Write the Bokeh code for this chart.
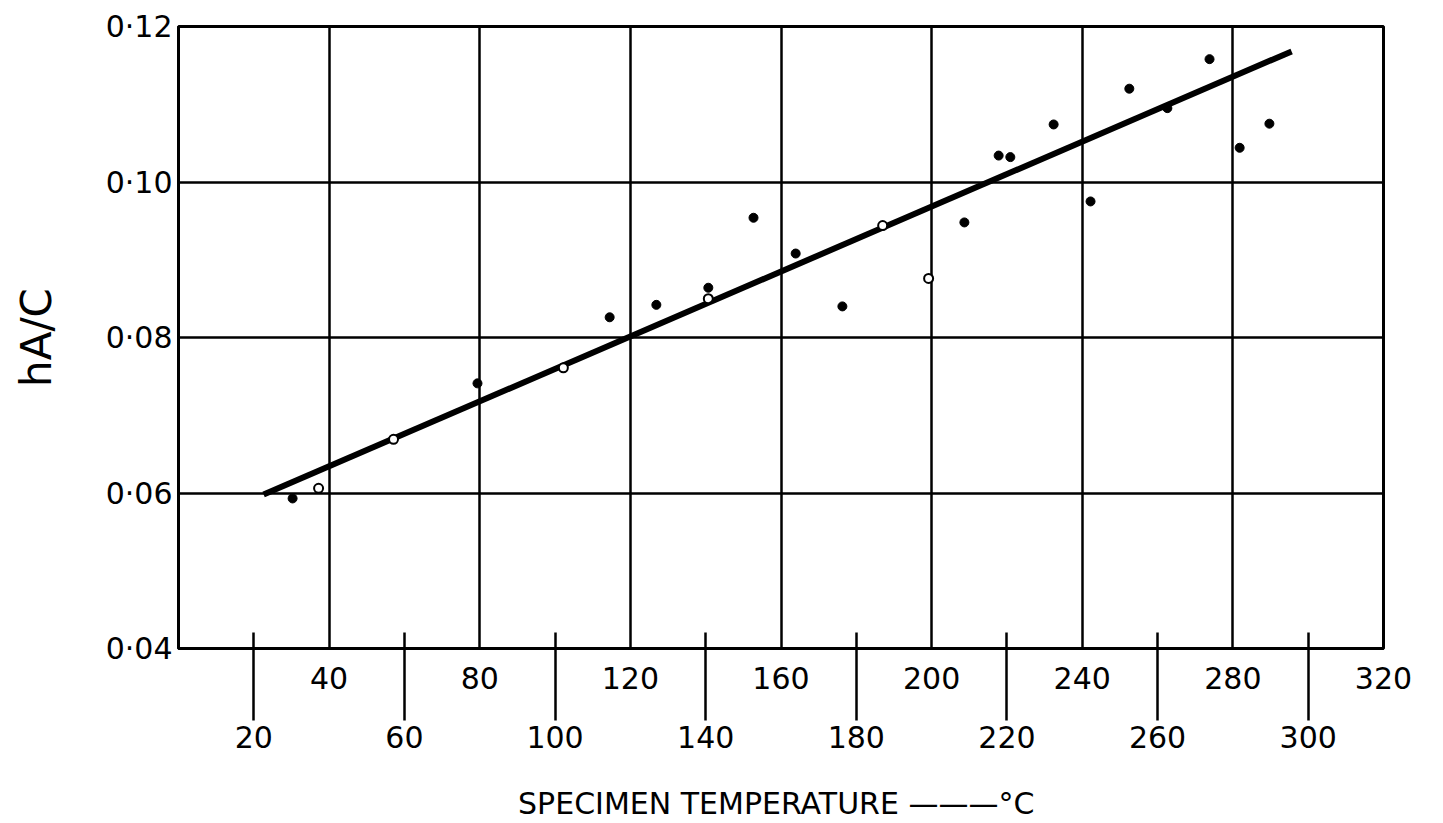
from bokeh.plotting import figure
from bokeh.models import LinearAxis, FixedTicker, Range1d
from bokeh.embed import file_html
from bokeh.resources import INLINE

# ---- data ----
temp_filled = [30.3, 79.4, 114.5, 126.9, 140.7, 152.7, 163.9, 176.3, 208.7, 217.8,
               220.9, 232.4, 242.2, 252.5, 262.6, 273.8, 281.8, 289.7]
ha_filled = [0.0593, 0.0741, 0.0826, 0.0842, 0.0864, 0.0954, 0.0908, 0.0840, 0.0948, 0.1034,
             0.1032, 0.1074, 0.0975, 0.1120, 0.1095, 0.1158, 0.1044, 0.1075]
temp_open = [37.2, 57.1, 102.2, 140.7, 187.0, 199.2]
ha_open = [0.0606, 0.0669, 0.0761, 0.0850, 0.0944, 0.0876]
fit_temp = [22.6, 295.6]
fit_ha = [0.0598, 0.1168]

upper_ticks = [40, 80, 120, 160, 200, 240, 280, 320]
lower_ticks = [20, 60, 100, 140, 180, 220, 260, 300]
y_ticks = [0.04, 0.06, 0.08, 0.10, 0.12]
y_labels = ["0·04", "0·06", "0·08", "0·10", "0·12"]
x_title = "SPECIMEN  TEMPERATURE ———°C"
y_title = "hA/C"

FONT = "DejaVu Sans"

p = figure(width=1443, height=823, x_range=Range1d(0, 320), y_range=Range1d(0.04, 0.12),
           output_backend="svg", toolbar_location=None,
           min_border_left=178, min_border_right=60, min_border_top=26, min_border_bottom=175)
p.background_fill_color = "white"
p.border_fill_color = "white"
p.outline_line_color = "black"
p.outline_line_width = 3

# grid
p.xgrid.ticker = FixedTicker(ticks=upper_ticks)
p.ygrid.ticker = FixedTicker(ticks=y_ticks)
for g in (p.xgrid, p.ygrid):
    g.grid_line_color = "black"
    g.grid_line_width = 2.5
    g.grid_line_alpha = 1.0

# y axis
ya = p.yaxis[0]
ya.ticker = FixedTicker(ticks=y_ticks)
ya.major_label_overrides = dict(zip(y_ticks, y_labels))
ya.major_tick_in = 0
ya.major_tick_out = 0
ya.minor_tick_in = 0
ya.minor_tick_out = 0
ya.axis_line_width = 3
ya.axis_line_color = "black"
ya.major_label_text_font = FONT
ya.major_label_text_font_size = "30px"
ya.major_label_text_color = "black"
ya.major_label_standoff = 6
ya.axis_label = y_title
ya.axis_label_text_font = FONT
ya.axis_label_text_font_size = "42px"
ya.axis_label_text_font_style = "normal"
ya.axis_label_text_color = "black"
ya.axis_label_standoff = 42

# upper row of x labels (40, 80, ...)
xa = p.xaxis[0]
xa.ticker = FixedTicker(ticks=upper_ticks)
xa.major_tick_in = 0
xa.major_tick_out = 0
xa.minor_tick_in = 0
xa.minor_tick_out = 0
xa.axis_line_width = 3
xa.axis_line_color = "black"
xa.major_label_text_font = FONT
xa.major_label_text_font_size = "30px"
xa.major_label_text_color = "black"
xa.major_label_standoff = 18

# lower row of x labels (20, 60, ...), with long tick lines
xb = LinearAxis(ticker=FixedTicker(ticks=lower_ticks))
xb.axis_line_color = None
xb.major_tick_in = 59
xb.major_tick_out = 29
xb.major_tick_line_width = 2.5
xb.major_tick_line_color = "black"
xb.minor_tick_in = 0
xb.minor_tick_out = 0
xb.major_label_text_font = FONT
xb.major_label_text_font_size = "30px"
xb.major_label_text_color = "black"
xb.major_label_standoff = 5
xb.axis_label = x_title
xb.axis_label_text_font = FONT
xb.axis_label_text_font_size = "30px"
xb.axis_label_text_font_style = "normal"
xb.axis_label_text_color = "black"
xb.axis_label_standoff = 35
p.add_layout(xb, "below")

# fitted line and points
p.line(fit_temp, fit_ha, line_color="black", line_width=6)
p.scatter(temp_filled, ha_filled, marker="circle", size=9,
          fill_color="black", line_color="black")
p.scatter(temp_open, ha_open, marker="circle", size=9,
          fill_color="white", line_color="black", line_width=2)

open("out.html", "w").write(file_html(p, INLINE))
